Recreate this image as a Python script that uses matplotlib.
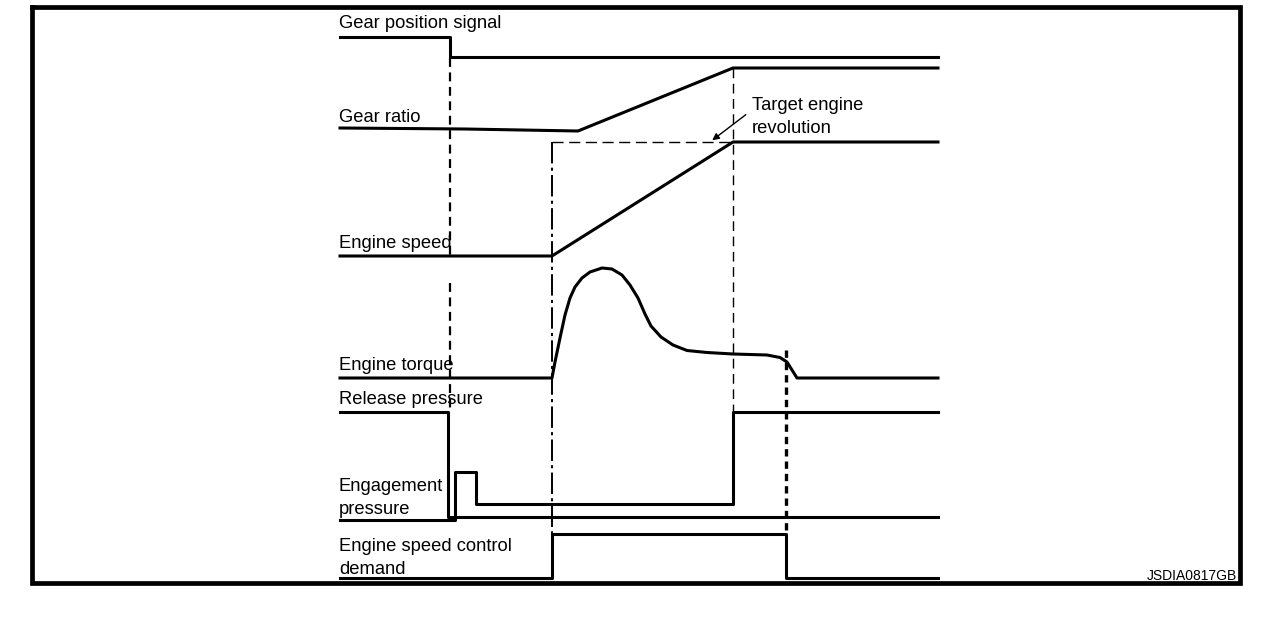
import matplotlib.pyplot as plt

plt.rcParams['font.family'] = ['Liberation Sans', 'DejaVu Sans']

# time axis events (horizontal units) and signal traces (vertical units, top = 0)
t_start, t_shift, t_speed, t_target, t_end_ctrl, t_stop = 340, 450, 552, 733, 786, 938

gear_signal_t = [t_start, t_shift, t_shift, t_stop]
gear_signal_v = [37, 37, 57, 57]

gear_ratio_t = [t_start, 465, 578, t_target, t_stop]
gear_ratio_v = [128, 129, 131, 68, 68]

engine_speed_t = [t_start, t_speed, t_target, t_stop]
engine_speed_v = [256, 256, 142, 142]

target_rev_t = [t_speed, t_target]
target_rev_v = [142, 142]

engine_torque_t = [t_start, 552, 555, 560, 565, 570, 575, 582, 590, 602, 612, 622,
                   630, 638, 645, 651, 661, 673, 687, 707, 733, 767, 780, 787,
                   792, 797, 810, t_stop]
engine_torque_v = [378, 378, 362, 338, 315, 298, 287, 278, 272, 268, 269, 275,
                   285, 298, 314, 326, 337, 345, 350.5, 352.5, 354, 355, 357.5, 362,
                   370, 378, 378, 378]

release_t = [t_start, 448, 448, t_stop]
release_v = [412, 412, 517, 517]

engage_t = [t_start, 455, 455, 476, 476, t_target, t_target, t_stop]
engage_v = [520, 520, 472, 472, 504, 504, 412, 412]

demand_t = [t_start, t_speed, t_speed, t_end_ctrl, t_end_ctrl, t_stop]
demand_v = [578, 578, 534, 534, 578, 578]

labels = [
    ("Gear position signal", 24),
    ("Gear ratio", 118),
    ("Engine speed", 244),
    ("Engine torque", 366),
    ("Release pressure", 400),
    ("Engagement\npressure", 498),
    ("Engine speed control\ndemand", 558),
]

fig = plt.figure(figsize=(12.8, 6.34), dpi=100)
ax = fig.add_axes([0, 0, 1, 1])
ax.set_xlim(0, 1280)
ax.set_ylim(634, 0)
ax.axis('off')

# frame
ax.plot([32, 1240, 1240, 32, 32], [7, 7, 583, 583, 7], color='black', lw=3.4,
        solid_joinstyle='miter')

lw = 2.2
for t, v in [(gear_signal_t, gear_signal_v), (gear_ratio_t, gear_ratio_v),
             (engine_speed_t, engine_speed_v), (engine_torque_t, engine_torque_v),
             (release_t, release_v), (engage_t, engage_v), (demand_t, demand_v)]:
    ax.plot(t, v, color='black', lw=lw, solid_joinstyle='round')

# guide lines
ax.plot([t_shift, t_shift], [58, 258], color='black', lw=1.6, dashes=(4, 2.5))
ax.plot([t_shift, t_shift], [283, 412], color='black', lw=1.6, dashes=(4, 2.5))
ax.plot([t_speed, t_speed], [142, 534], color='black', lw=1.4,
        dashes=(11, 2.2, 1.6, 2.2))
ax.plot(target_rev_t, target_rev_v, color='black', lw=1.0, dashes=(8, 4))
ax.plot([t_target, t_target], [68, 412], color='black', lw=1.0, dashes=(7, 4))
ax.plot([t_end_ctrl, t_end_ctrl], [350, 534], color='black', lw=2.4, dashes=(2.2, 1.5))

ax.annotate("", xy=(710, 142), xytext=(748, 113),
            arrowprops=dict(arrowstyle='-|>', color='black', lw=1.0,
                            mutation_scale=10))
ax.text(752, 117, "Target engine\nrevolution", fontsize=13.2, va='center',
        ha='left', linespacing=1.4)

for txt, y in labels:
    ax.text(339, y, txt, fontsize=13.2, va='center', ha='left', linespacing=1.4)

ax.text(1237, 576, "JSDIA0817GB", fontsize=10, ha='right', va='center')

fig.savefig('out.png', dpi=100)
